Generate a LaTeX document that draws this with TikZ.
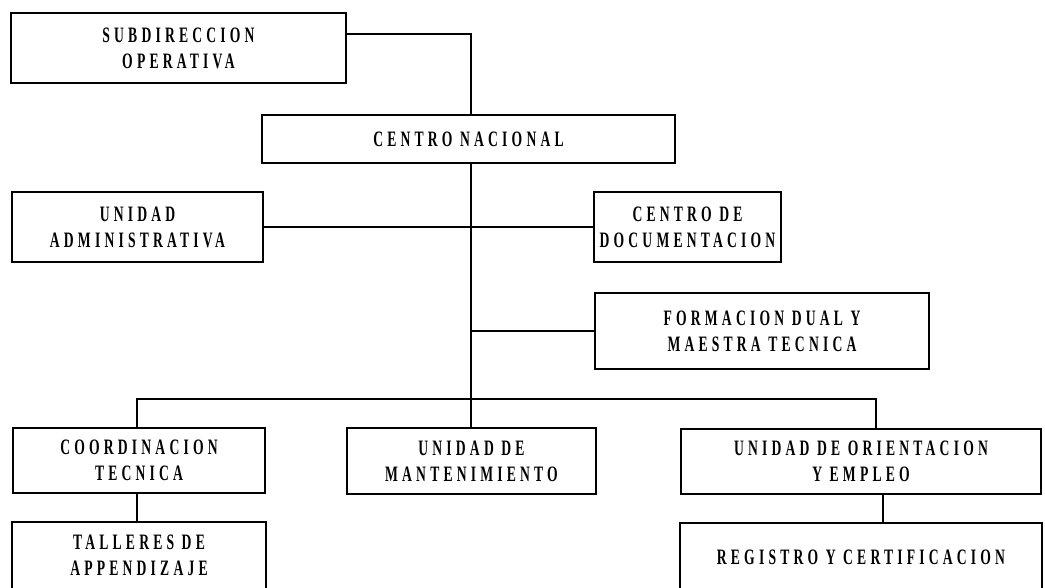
\documentclass[tikz,border=0pt]{standalone}
\usepackage{fontspec}
\setmainfont{Liberation Serif}[FakeStretch=0.62, LetterSpace=19]
\begin{document}
\begin{tikzpicture}[x=1pt,y=-1pt,
  box/.style={draw, line width=1.6pt, inner sep=0pt, align=center,
    font=\fontsize{22}{26}\selectfont\bfseries},
  openbox/.style={box, draw=none},
  link/.style={line width=1.6pt}]
\useasboundingbox (0,0) rectangle (1045,588);
\fill[white] (0,0) rectangle (1045,588);
\node[box, minimum width=335pt, minimum height=70pt] (sub) at (178.5,48) {SUBDIRECCION\\OPERATIVA};
\node[box, minimum width=413pt, minimum height=48pt] (cn) at (468.5,139) {CENTRO NACIONAL};
\node[box, minimum width=251pt, minimum height=70pt] (ua) at (137.5,227) {UNIDAD\\ADMINISTRATIVA};
\node[box, minimum width=187pt, minimum height=70pt] (cd) at (687.5,227) {CENTRO DE\\DOCUMENTACION};
\node[box, minimum width=334pt, minimum height=76pt] (fd) at (762,331) {FORMACION DUAL Y\\MAESTRA TECNICA};
\node[box, minimum width=252pt, minimum height=65pt] (ct) at (139,460.5) {COORDINACION\\TECNICA};
\node[box, minimum width=249pt, minimum height=66pt] (um) at (471.5,461) {UNIDAD DE\\MANTENIMIENTO};
\node[box, minimum width=360pt, minimum height=65pt] (uo) at (861,461.5) {UNIDAD DE ORIENTACION\\Y EMPLEO};
\node[openbox, minimum width=252pt, minimum height=64pt] (ta) at (139,555) {TALLERES DE\\APPENDIZAJE};
\node[openbox, minimum width=360pt, minimum height=66pt] (rc) at (861,557) {REGISTRO Y CERTIFICACION};
\draw[link] ([yshift=-8pt]ta.south west) -- (ta.north west) -- (ta.north east) -- ([yshift=-8pt]ta.south east);
\draw[link] ([yshift=-8pt]rc.south west) -- (rc.north west) -- (rc.north east) -- ([yshift=-8pt]rc.south east);
\coordinate (j1) at (471,34);
\coordinate (bus) at (471,399);
\coordinate (bl) at (137,399);
\coordinate (br) at (876,399);
\coordinate (rx) at (883,0);
\draw[link] (sub.east |- j1) -- (j1) -- (cn.north -| j1);
\draw[link] (cn.south -| bus) -- (bus) -- (um.north -| bus);
\draw[link] (ua.east) -- (cd.west);
\draw[link] (fd.west) -- (fd.west -| bus);
\draw[link] (ct.north -| bl) -- (bl) -- (br) -- (uo.north -| br);
\draw[link] (ct.south -| bl) -- (ta.north -| bl);
\draw[link] (uo.south -| rx) -- (rc.north -| rx);
\end{tikzpicture}
\end{document}
